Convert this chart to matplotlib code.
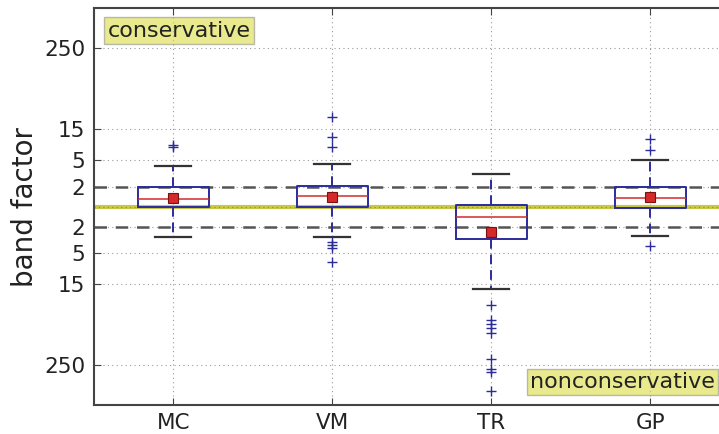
import numpy as np
import matplotlib
matplotlib.use('Agg')
import matplotlib.pyplot as plt

# data, in log10 of the band factor (positive = conservative)
labels = ['MC', 'VM', 'TR', 'GP']
q1 = [-0.01, 0.0, -0.49, -0.02]
medians = [0.11, 0.16, -0.15, 0.135]
q3 = [0.30, 0.32, 0.03, 0.30]
whis_lo = [-0.46, -0.46, -1.24, -0.45]
whis_hi = [0.62, 0.65, 0.50, 0.70]
means = [0.13, 0.15, -0.38, 0.14]
fliers = [
    [0.94, 0.90],
    [1.36, 1.05, 0.90, -0.54, -0.58, -0.63, -0.83],
    [-1.49, -1.71, -1.77, -1.84, -1.91, -2.30, -2.45, -2.50, -2.79],
    [1.02, 0.85, -0.60],
]
tick_factors = [2, 5, 15, 250]

blue = '#2c2c9c'
red = '#d42a2a'
txt = '#222222'

fig = plt.figure(figsize=(7.19, 4.34), dpi=100)
ax = fig.add_axes([0.1305, 0.0668, 0.8846, 0.914])

stats = []
for i in range(len(labels)):
    stats.append({'label': labels[i], 'q1': q1[i], 'med': medians[i], 'q3': q3[i],
                  'whislo': whis_lo[i], 'whishi': whis_hi[i], 'mean': means[i],
                  'fliers': np.array(fliers[i])})

# reference band at factor 1 and dashed lines at factor 2
ax.axhline(0, color='#c8c844', lw=3, zorder=1)
ax.axhline(0, color='#888855', lw=0.8, ls=(0, (1, 3)), zorder=1.1)
for s in (1, -1):
    ax.axhline(s * np.log10(2), color='#555555', lw=1.8, ls=(0, (5, 3.5)), zorder=1)

ax.bxp(stats, widths=0.45, showmeans=True, patch_artist=False,
       boxprops=dict(color=blue, lw=1.4),
       medianprops=dict(color=red, lw=1.1),
       whiskerprops=dict(color=blue, lw=1.4, ls=(0, (5, 3))),
       capprops=dict(color='#333333', lw=1.6),
       flierprops=dict(marker='+', markeredgecolor=blue, markersize=6.5, mew=1.0),
       meanprops=dict(marker='s', markerfacecolor=red, markeredgecolor='#7a1010',
                      markersize=7.5, mew=0.8))

ax.set_xlim(0.5, 4.5)
ax.set_ylim(-3, 3)

yt = [np.log10(f) for f in tick_factors[::-1]] + [-np.log10(f) for f in tick_factors]
yl = [str(f) for f in tick_factors[::-1]] + [str(f) for f in tick_factors]
ax.set_yticks(yt)
ax.set_yticklabels(yl)
ax.set_xticks(range(1, len(labels) + 1))
ax.set_xticklabels(labels)

ax.tick_params(axis='both', direction='in', labelsize=15.5, labelcolor=txt,
               color='#444444', length=5, top=True, right=True, pad=6)
ax.grid(True, ls=(0, (1, 3)), color='#999999', lw=0.8)
ax.set_axisbelow(True)
for sp in ax.spines.values():
    sp.set_color('#444444')
    sp.set_linewidth(1.5)

ax.set_ylabel('band factor', fontsize=20, color=txt, labelpad=4)

box_style = dict(boxstyle='square,pad=0.15', facecolor='#d8d830', alpha=0.55,
                 edgecolor='#888888', lw=1)
ax.text(0.022, 0.944, 'conservative', transform=ax.transAxes, ha='left', va='center',
        fontsize=16, color=txt, bbox=box_style)
ax.text(0.686, 0.058, 'nonconservative', transform=ax.transAxes, ha='left', va='center',
        fontsize=16, color=txt, bbox=box_style)

fig.savefig('out.png', dpi=100)
